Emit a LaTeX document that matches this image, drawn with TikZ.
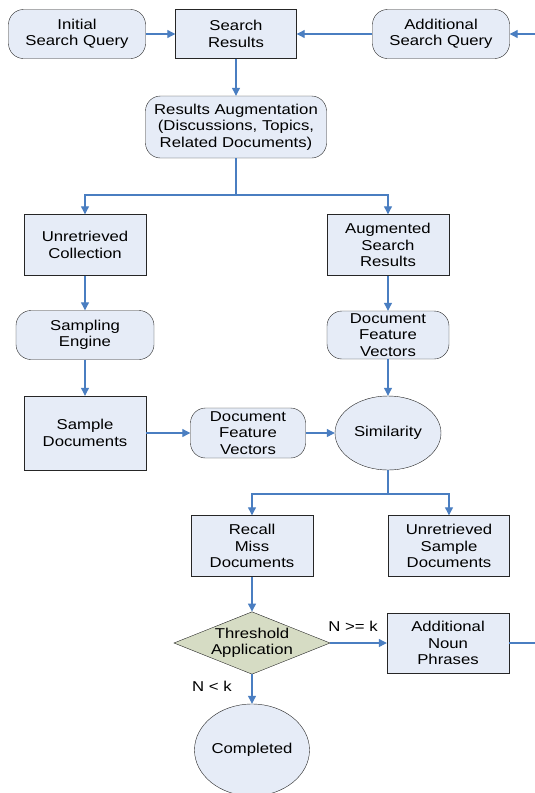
\documentclass[tikz,border=0pt]{standalone}
\usepackage{fontspec}
\setmainfont{Liberation Sans}[FakeStretch=1.17]
\usetikzlibrary{arrows.meta,shapes.geometric}
\definecolor{boxfill}{RGB}{230,236,247}
\definecolor{flowblue}{RGB}{74,126,193}
\definecolor{testfill}{RGB}{214,220,196}
\begin{document}
\begin{tikzpicture}[x=1pt,y=-1pt,
  font=\fontsize{14.3}{16.4}\selectfont,
  rbox/.style={draw=black!85, fill=boxfill, rounded corners=15pt, align=center, inner sep=0pt},
  sbox/.style={draw=black!85, fill=boxfill, align=center, inner sep=0pt},
  ebox/.style={draw=black!85, fill=boxfill, ellipse, align=center, inner sep=0pt},
  flow/.style={draw=flowblue, line width=1.1pt, -{Triangle[length=8pt,width=8pt]}},
  plain/.style={draw=flowblue, line width=1.1pt}]
\useasboundingbox (0,0) rectangle (535,793);
\node[rbox, minimum width=137, minimum height=49] (initq) at (77,34){Initial\\Search Query};
\node[sbox, minimum width=121, minimum height=49] (results) at (236,34){Search\\Results};
\node[rbox, minimum width=137, minimum height=49] (addq) at (441,34){Additional\\Search Query};
\coordinate (inR) at (535,34);
\node[rbox, minimum width=181, minimum height=62] (augment) at (236,127){Results Augmentation\\(Discussions, Topics,\\Related Documents)};
\coordinate (split1) at (236,195);
\node[sbox, minimum width=122, minimum height=61] (unret) at (85,245){Unretrieved\\Collection};
\node[sbox, minimum width=122, minimum height=61] (augres) at (388,245){Augmented\\Search\\Results};
\node[rbox, minimum width=138, minimum height=49] (sampeng) at (85,335){Sampling\\Engine};
\node[rbox, minimum width=122, minimum height=48] (dfvr) at (388,335){Document\\Feature\\Vectors};
\node[sbox, minimum width=122, minimum height=74] (sampdoc) at (85,433){Sample\\Documents};
\node[rbox, minimum width=115, minimum height=50] (dfvm) at (248,433){Document\\Feature\\Vectors};
\node[ebox, minimum width=106, minimum height=74] (simil) at (388,433){Similarity};
\coordinate (split2) at (388,494);
\node[sbox, minimum width=122, minimum height=61] (recall) at (252,546){Recall\\Miss\\Documents};
\node[sbox, minimum width=121, minimum height=61] (unsamp) at (449,546){Unretrieved\\Sample\\Documents};
\node[diamond, draw=black!85, fill=testfill, aspect=2.5, minimum width=151, minimum height=60, inner sep=0pt, align=center] (thresh) at (252,643){Threshold\\Application};
\node[sbox, minimum width=122, minimum height=60] (noun) at (448,643){Additional\\Noun\\Phrases};
\coordinate (outR) at (535,643);
\node[ebox, minimum width=115, minimum height=92] (done) at (252,750){Completed};
\node (geq) at (353,626){N >= k};
\node (less) at (212,686){N < k};
\draw[flow](initq) -- (results);
\draw[flow](addq) -- (results);
\draw[flow](inR) -- (addq);
\draw[flow](results) -- (augment);
\draw[plain](augment) -- (split1);
\draw[flow](split1) -| (unret);
\draw[flow](split1) -| (augres);
\draw[flow](unret) -- (sampeng);
\draw[flow](sampeng) -- (sampdoc);
\draw[flow](augres) -- (dfvr);
\draw[flow](dfvr) -- (simil);
\draw[flow](sampdoc) -- (dfvm);
\draw[flow](dfvm) -- (simil);
\draw[plain](simil) -- (split2);
\draw[flow](split2) -| (recall);
\draw[flow](split2) -| (unsamp);
\draw[flow](recall) -- (thresh);
\draw[flow](thresh) -- (noun);
\draw[flow](thresh) -- (done);
\draw[plain](noun) -- (outR);
\end{tikzpicture}
\end{document}
